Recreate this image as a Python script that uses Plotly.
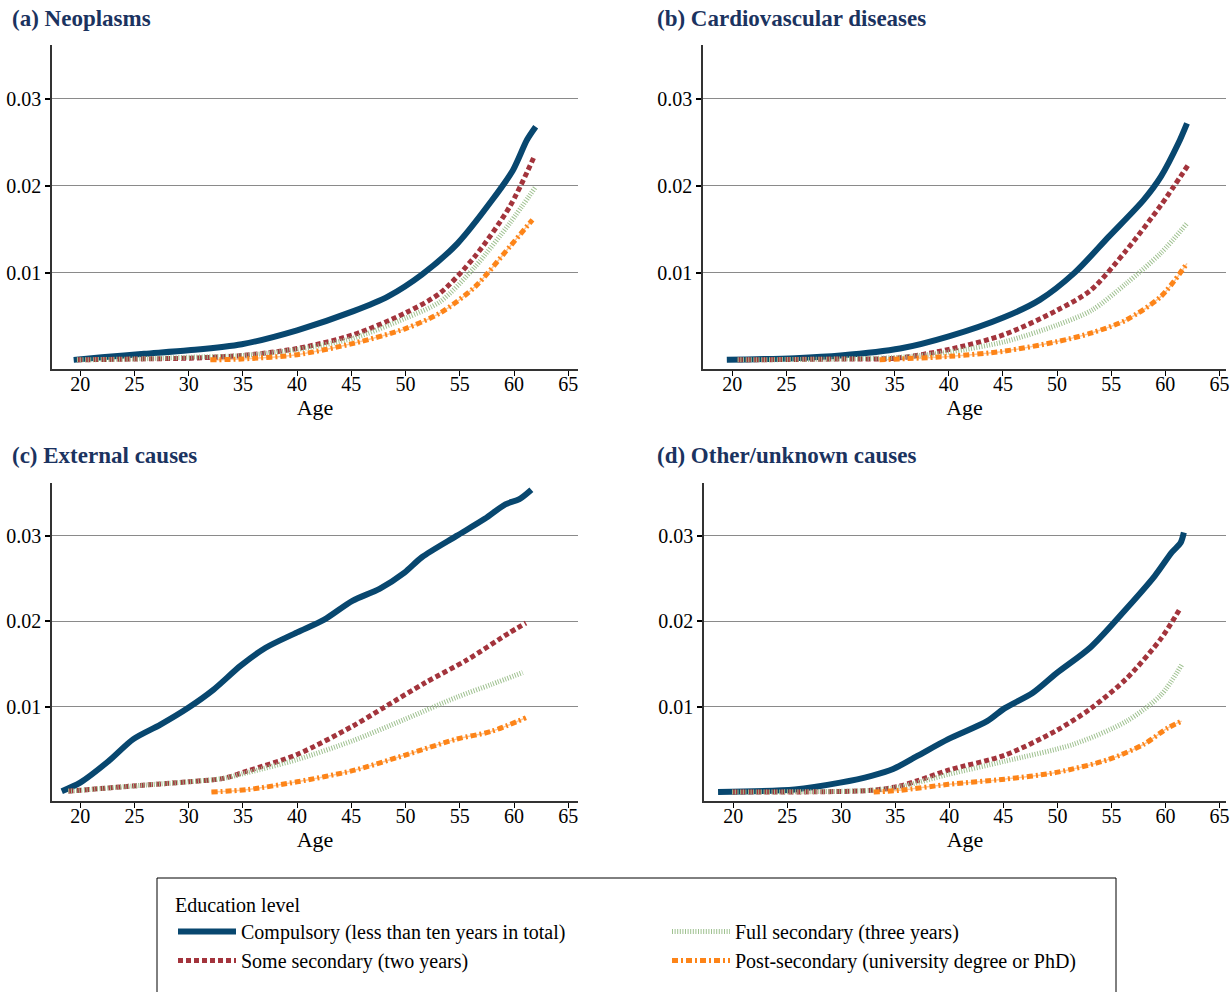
import plotly.graph_objects as go

# ---------------- data ----------------
series_names = [
    "Compulsory (less than ten years in total)",
    "Some secondary (two years)",
    "Full secondary (three years)",
    "Post-secondary (university degree or PhD)",
]
panel_titles = ["(a) Neoplasms", "(b) Cardiovascular diseases",
                "(c) External causes", "(d) Other/unknown causes"]
x_ticks = [20, 25, 30, 35, 40, 45, 50, 55, 60, 65]
y_ticks = [0.01, 0.02, 0.03]
y_tick_labels = ["0.01", "0.02", "0.03"]

# (a) Neoplasms
a_comp_age = [19.4, 22, 25.9, 30, 34.9, 40.0, 45.2, 48.4, 51.5, 54.8, 58.0, 59.9, 61.2, 62.0]
a_comp_val = [0.0, 0.0003, 0.0007, 0.0011, 0.0018, 0.0034, 0.0056, 0.0073, 0.0098, 0.0134, 0.0184, 0.0218, 0.0253, 0.0268]
a_some_age = [19.7, 25, 30.1, 34.9, 40, 45.2, 50, 53.2, 56.4, 59.6, 61.8]
a_some_val = [0.0, 0.0001, 0.0002, 0.0005, 0.0013, 0.0029, 0.0054, 0.0077, 0.0119, 0.0176, 0.0232]
a_full_age = [19.7, 25, 30, 35, 40, 45.2, 50, 53.2, 56.4, 59.6, 62.0]
a_full_val = [0.0, 0.0001, 0.0003, 0.0005, 0.0012, 0.0025, 0.0048, 0.0067, 0.0107, 0.0157, 0.0199]
a_post_age = [32.0, 34.9, 40, 45.2, 50, 53.2, 56.4, 59.6, 61.7]
a_post_val = [0.0, 0.0001, 0.0006, 0.0019, 0.0036, 0.0054, 0.0084, 0.0130, 0.0161]

# (b) Cardiovascular diseases
b_comp_age = [19.5, 25.8, 30, 35.5, 40, 45.1, 48.4, 51.6, 54.8, 58, 59.6, 61.2, 62.0]
b_comp_val = [0.0, 0.0002, 0.0005, 0.0013, 0.0027, 0.0049, 0.0069, 0.0100, 0.0142, 0.0184, 0.0211, 0.0249, 0.0272]
b_some_age = [20.5, 30, 35.2, 40, 45.1, 50, 53.1, 56.4, 59.6, 62.1]
b_some_val = [0.0, 0.0001, 0.0002, 0.0012, 0.0029, 0.0057, 0.0080, 0.0126, 0.0178, 0.0224]
b_full_age = [20.5, 30, 35.5, 40, 45.2, 50, 53.2, 56.4, 59.6, 62.0]
b_full_val = [0.0, 0.0001, 0.0003, 0.0009, 0.0021, 0.0040, 0.0057, 0.0088, 0.0123, 0.0157]
b_post_age = [33.6, 40, 45.1, 50, 53.2, 56.4, 59.6, 62.0]
b_post_val = [0.0, 0.0004, 0.0010, 0.0021, 0.0031, 0.0046, 0.0073, 0.0111]

# (c) External causes
c_comp_age = [18.3, 20, 22.6, 24.9, 27.4, 30, 32.3, 34.8, 37.1, 40, 42.5, 45.1, 47.6, 49.9, 51.5, 54.7, 57.3, 59.2, 60.5, 61.6]
c_comp_val = [0.0001, 0.0011, 0.0036, 0.0062, 0.0079, 0.0099, 0.0120, 0.0148, 0.0169, 0.0187, 0.0202, 0.0224, 0.0238, 0.0257, 0.0275, 0.0300, 0.0320, 0.0337, 0.0343, 0.0354]
c_some_age = [18.9, 25.8, 30, 33.2, 35.5, 40, 45.1, 48, 51.8, 55.7, 59.5, 61.1]
c_some_val = [0.0001, 0.0008, 0.0012, 0.0016, 0.0025, 0.0044, 0.0077, 0.0099, 0.0128, 0.0155, 0.0186, 0.0198]
c_full_age = [18.9, 25.8, 30, 33.2, 35.5, 40, 45.1, 49.9, 54.7, 57.9, 60.8]
c_full_val = [0.0001, 0.0008, 0.0012, 0.0016, 0.0023, 0.0038, 0.0060, 0.0085, 0.0111, 0.0126, 0.0140]
c_post_age = [32.1, 35.5, 40, 45.1, 49.9, 54.7, 57.9, 61.1]
c_post_val = [0.0, 0.0003, 0.0012, 0.0025, 0.0043, 0.0062, 0.0071, 0.0087]

# (d) Other/unknown causes
d_comp_age = [18.6, 25.7, 29.9, 32.8, 34.8, 37, 39.9, 43.5, 45.1, 47.7, 49.9, 53.1, 56.4, 59, 60.6, 61.4, 61.7]
d_comp_val = [0.0, 0.0003, 0.0011, 0.0019, 0.0027, 0.0042, 0.0062, 0.0083, 0.0098, 0.0116, 0.0139, 0.0170, 0.0215, 0.0253, 0.0281, 0.0292, 0.0304]
d_some_age = [19.9, 32.8, 35.4, 37, 40, 45.1, 49.9, 53.1, 56.4, 59.6, 61.4]
d_some_val = [0.0, 0.0002, 0.0007, 0.0013, 0.0026, 0.0043, 0.0072, 0.0098, 0.0133, 0.0180, 0.0216]
d_full_age = [19.9, 32.8, 35.4, 40, 45.1, 51.5, 56.4, 59.6, 61.5]
d_full_val = [0.0, 0.0002, 0.0006, 0.0021, 0.0036, 0.0056, 0.0083, 0.0114, 0.0149]
d_post_age = [33.0, 35.4, 39.9, 45.1, 49.9, 54.7, 58, 60.2, 61.5]
d_post_val = [0.0, 0.0002, 0.0009, 0.0015, 0.0023, 0.0038, 0.0056, 0.0075, 0.0083]

panels = [
    [(a_comp_age, a_comp_val), (a_some_age, a_some_val), (a_full_age, a_full_val), (a_post_age, a_post_val)],
    [(b_comp_age, b_comp_val), (b_some_age, b_some_val), (b_full_age, b_full_val), (b_post_age, b_post_val)],
    [(c_comp_age, c_comp_val), (c_some_age, c_some_val), (c_full_age, c_full_val), (c_post_age, c_post_val)],
    [(d_comp_age, d_comp_val), (d_some_age, d_some_val), (d_full_age, d_full_val), (d_post_age, d_post_val)],
]

# ---------------- styling ----------------
W, H = 1230, 992
FONT = "Liberation Serif, Times New Roman, serif"
styles = [
    dict(color="#08476f", width=6, dash="solid"),
    dict(color="#a3343c", width=5, dash="5px,3px"),
    dict(color="#9fc190", width=5, dash="1px,1.6px"),
    dict(color="#fd8418", width=5, dash="6px,3px,2px,3px"),
]
legend_rank = [1, 3, 2, 4]  # row-major two-column legend

# pixel boxes of the four plot areas: (left, right, top, bottom)
boxes = [(52, 578, 45, 369), (703, 1226, 45, 369), (52, 578, 483, 801), (704, 1226, 483, 801)]
x_ranges = [[17.4, 65.9], [17.3, 65.6], [17.4, 65.9], [17.3, 65.6]]
y_range = [-0.00105, 0.0362]

fig = go.Figure()
for p, series in enumerate(panels):
    xa = "x" if p == 0 else f"x{p+1}"
    ya = "y" if p == 0 else f"y{p+1}"
    # light under-stroke for the dash-dot line
    ages, vals = series[3]
    fig.add_trace(go.Scatter(x=ages, y=vals, mode="lines", xaxis=xa, yaxis=ya,
                             line=dict(color="#fcc89a", width=1.5, shape="spline"),
                             showlegend=False, hoverinfo="skip"))
    for s, (ages, vals) in enumerate(series):
        st = styles[s]
        fig.add_trace(go.Scatter(
            x=ages, y=vals, mode="lines", xaxis=xa, yaxis=ya,
            name=series_names[s], legendrank=legend_rank[s],
            line=dict(color=st["color"], width=st["width"], dash=st["dash"], shape="spline", smoothing=0.8),
            showlegend=(p == 0),
        ))

layout = dict(
    width=W, height=H,
    margin=dict(l=0, r=0, t=0, b=0, autoexpand=False),
    paper_bgcolor="white", plot_bgcolor="white",
    font=dict(family=FONT, size=20, color="black"),
    showlegend=True,
    legend=dict(
        orientation="h", x=173 / W, y=1 - 886 / H, xanchor="left", yanchor="top",
        entrywidth=421, entrywidthmode="pixels",
        title=dict(text="Education level", side="top", font=dict(size=20, family=FONT)),
        font=dict(size=20, family=FONT, color="black"),
        bgcolor="rgba(0,0,0,0)", borderwidth=0, tracegroupgap=0, itemwidth=58,
        traceorder="normal",
    ),
    shapes=[dict(type="rect", xref="paper", yref="paper",
                 x0=157 / W, x1=1116 / W, y0=-0.05, y1=1 - 878 / H,
                 line=dict(color="black", width=1), fillcolor="rgba(0,0,0,0)", layer="below")],
    annotations=[],
)
for p in range(4):
    l, r, t, b = boxes[p]
    sx = "" if p == 0 else str(p + 1)
    layout[f"xaxis{sx}"] = dict(
        domain=[l / W, r / W], range=x_ranges[p], anchor=f"y{sx}",
        tickvals=x_ticks, ticks="outside", ticklen=5, tickwidth=1.2, tickcolor="black",
        ticklabelstandoff=-9,
        showline=True, linecolor="#333333", linewidth=1.6, showgrid=False, zeroline=False,
        tickfont=dict(size=20, family=FONT), title=dict(text="Age", font=dict(size=22, family=FONT), standoff=4),
    )
    layout[f"yaxis{sx}"] = dict(
        domain=[1 - b / H, 1 - t / H], range=y_range, anchor=f"x{sx}",
        tickvals=y_ticks, ticktext=y_tick_labels, ticks="outside", ticklen=5, tickwidth=1.6, tickcolor="black",
        showline=True, linecolor="#333333", linewidth=1.6, showgrid=True, gridcolor="#8a8a8a", gridwidth=1.2,
        zeroline=False, tickfont=dict(size=20, family=FONT),
    )
    title_y = 18 if p < 2 else 455
    title_x = 10 if p % 2 == 0 else 655
    layout["annotations"].append(dict(
        text=f"<b>{panel_titles[p]}</b>", xref="paper", yref="paper",
        x=title_x / W, y=1 - title_y / H, xanchor="left", yanchor="middle", showarrow=False,
        font=dict(size=23, family=FONT, color="#1b3360"),
    ))

fig.update_layout(**layout)
fig.write_html("out.html", config={"displayModeBar": False},
               post_script="document.body.style.margin='0';document.body.style.overflow='hidden';")
